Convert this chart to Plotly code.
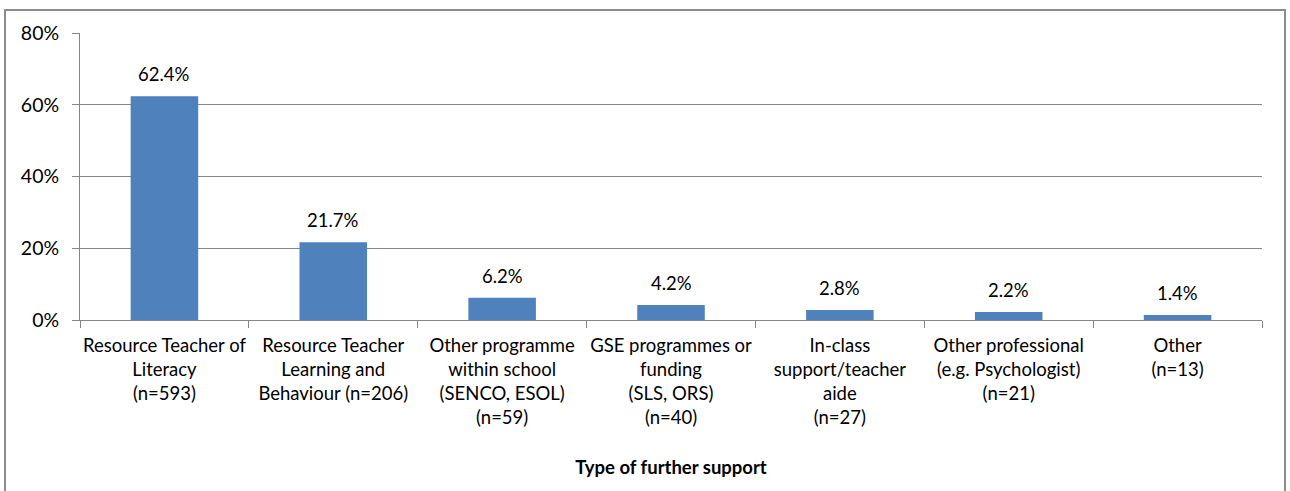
import plotly.graph_objects as go

categories = [
    "Resource Teacher of<br>Literacy<br>(n=593)",
    "Resource Teacher<br>Learning and<br>Behaviour (n=206)",
    "Other programme<br>within school<br>(SENCO, ESOL)<br>(n=59)",
    "GSE programmes or<br>funding<br>(SLS, ORS)<br>(n=40)",
    "In-class<br>support/teacher<br>aide<br>(n=27)",
    "Other professional<br>(e.g. Psychologist)<br>(n=21)",
    "Other<br>(n=13)",
]
values = [62.4, 21.7, 6.2, 4.2, 2.8, 2.2, 1.4]
labels = [f"{v:.1f}%" for v in values]
y_ticks = [0, 20, 40, 60, 80]
y_tick_text = [f"{t}%" for t in y_ticks]
x_title = "Type of further support"

FONT = "Lato, Carlito, Calibri, sans-serif"
GRID = "#868686"

fig = go.Figure(
    go.Bar(
        x=categories,
        y=values,
        marker=dict(color="#4F81BD", line=dict(width=0)),
        width=0.4,
        cliponaxis=False,
    )
)

for c, v, t in zip(categories, values, labels):
    fig.add_annotation(
        x=c, y=v, text=t, showarrow=False, yanchor="bottom", yshift=9,
        font=dict(size=18.5, family=FONT, color="#000000"),
    )

fig.update_layout(
    width=1290,
    height=491,
    margin=dict(l=80, r=28, t=33, b=171),
    paper_bgcolor="white",
    plot_bgcolor="white",
    showlegend=False,
    font=dict(family=FONT, size=18, color="#000000"),
    shapes=[
        dict(
            type="rect",
            xref="paper",
            yref="paper",
            x0=(5 - 80) / 1182,
            x1=(1285 - 80) / 1182,
            y0=-0.7,
            y1=(320 - 10) / 287,
            line=dict(color="#8c8c8c", width=2),
            layer="below",
        )
    ],
)

fig.update_yaxes(
    range=[0, 80],
    tickvals=y_ticks,
    ticktext=y_tick_text,
    showgrid=True,
    gridcolor=GRID,
    gridwidth=1,
    showline=True,
    linecolor=GRID,
    linewidth=1,
    ticks="outside",
    ticklen=7,
    tickcolor=GRID,
    ticklabelstandoff=9,
    tickfont=dict(size=19.5, family=FONT),
    zeroline=False,
    fixedrange=True,
)

fig.update_xaxes(
    type="category",
    tickson="boundaries",
    ticks="outside",
    ticklen=7,
    tickcolor=GRID,
    showline=True,
    linecolor=GRID,
    linewidth=1,
    showgrid=False,
    tickangle=0,
    tickfont=dict(size=18.5, family=FONT),
    ticklabelstandoff=9,
    title=dict(text=f"<b>{x_title}</b>", font=dict(size=18.5, family=FONT), standoff=33),
    automargin=False,
)

fig.write_html("out.html")
